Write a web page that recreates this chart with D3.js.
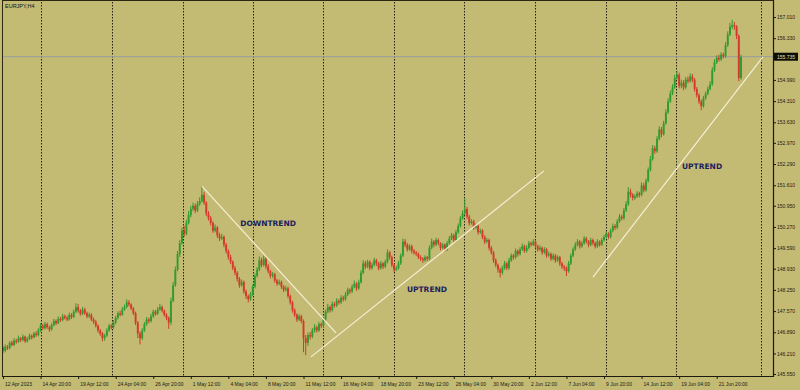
<!DOCTYPE html>
<html>
<head>
<meta charset="utf-8">
<script src="https://cdn.jsdelivr.net/npm/d3@7"></script>
<style>
  body { margin: 0; background: #c3ba74; }
  svg { display: block; }
  .tick text { font-family: "Liberation Sans", Arial, sans-serif; font-size: 5px; fill: #1a1a10; }
</style>
</head>
<body>
<div id="chart"></div>
<script>
// EURJPY H4 candles (prices)
var firstOpen = 146.38;

var closes = [
  146.30,146.42,146.38,146.55,146.48,146.62,146.58,146.70,146.64,146.75,146.60,146.68,146.78,146.72,146.85,146.80,146.95,
  147.10,147.02,147.15,147.05,146.98,147.12,147.25,147.18,147.32,147.28,147.40,147.35,147.30,147.45,147.38,147.55,147.70,
  147.58,147.48,147.62,147.50,147.40,147.45,147.30,147.22,147.10,146.95,146.85,146.70,146.78,146.95,147.10,147.05,147.20,
  147.35,147.50,147.45,147.62,147.70,147.85,147.78,147.65,147.50,147.20,146.85,146.70,146.95,147.15,147.30,147.25,147.40,
  147.55,147.48,147.62,147.70,147.58,147.45,147.35,147.20,147.90,148.40,148.90,149.40,149.75,150.15,150.05,150.40,150.65,
  150.85,150.95,150.80,151.00,151.10,151.30,151.05,150.70,150.55,150.40,150.15,150.25,150.00,149.90,149.95,149.70,149.50,
  149.30,149.15,148.95,148.80,148.60,148.40,148.50,148.20,148.05,147.95,148.10,148.35,148.70,148.90,149.20,149.05,149.25,
  149.00,148.85,148.70,148.75,148.55,148.45,148.50,148.35,148.25,148.30,148.05,147.85,147.60,147.45,147.30,147.40,147.25,
  146.70,146.55,146.80,146.75,146.95,147.05,146.95,147.15,147.10,147.30,147.55,147.70,147.60,147.80,147.75,147.90,147.85,
  148.00,147.95,148.10,148.25,148.20,148.35,148.45,148.30,148.50,148.80,149.10,149.00,149.15,148.95,149.05,149.20,149.10,
  148.95,149.10,149.00,149.15,149.45,149.30,149.05,148.90,148.95,149.10,149.35,149.80,149.70,149.55,149.65,149.50,149.45,
  149.40,149.30,149.25,149.20,149.30,149.25,149.60,149.80,149.70,149.85,149.75,149.60,149.70,149.55,149.75,149.90,150.00,
  149.85,150.10,150.30,150.55,150.70,150.85,150.60,150.40,150.45,150.25,150.30,150.10,150.15,149.95,149.80,149.85,149.60,
  149.45,149.20,149.05,148.90,148.80,148.95,149.10,148.95,149.20,149.35,149.30,149.50,149.40,149.55,149.65,149.50,149.60,
  149.75,149.70,149.80,149.65,149.55,149.60,149.45,149.55,149.35,149.40,149.25,149.35,149.20,149.30,149.10,149.00,148.95,
  148.85,149.10,149.35,149.55,149.70,149.80,149.65,149.75,149.90,149.80,149.70,149.85,149.75,149.65,149.80,149.70,149.85,
  149.95,150.05,149.95,150.15,150.30,150.25,150.45,150.60,150.55,150.80,151.00,151.40,151.30,151.20,151.25,151.35,151.30,
  151.60,151.45,151.75,152.10,152.45,152.80,152.70,153.10,153.40,153.25,153.60,153.95,154.30,154.55,154.75,155.05,155.15,
  154.80,154.90,154.75,155.00,154.95,155.10,155.00,154.70,154.50,154.30,154.15,154.40,154.55,154.70,154.85,155.30,155.55,
  155.70,155.65,155.80,155.75,156.10,156.45,156.70,156.75,156.70,156.40,155.05,155.73
];

var highs = [
  146.45,146.50,146.48,146.60,146.62,146.70,146.68,146.78,146.74,146.82,146.78,146.74,146.85,146.82,146.90,146.92,147.02,
  147.18,147.16,147.22,147.20,147.10,147.18,147.32,147.30,147.40,147.38,147.48,147.46,147.42,147.52,147.50,147.62,147.82,
  147.80,147.64,147.70,147.68,147.55,147.52,147.50,147.36,147.28,147.14,147.00,146.90,146.84,147.02,147.16,147.15,147.28,
  147.42,147.56,147.58,147.70,147.78,147.95,147.92,147.82,147.70,147.55,147.25,146.92,147.02,147.22,147.38,147.36,147.48,
  147.62,147.60,147.70,147.80,147.75,147.62,147.50,147.40,148.00,148.50,149.00,149.50,149.85,150.25,150.30,150.50,150.78,
  150.95,151.05,151.02,151.10,151.22,151.58,151.40,151.10,150.78,150.62,150.45,150.35,150.30,150.08,150.05,150.00,149.76,
  149.55,149.38,149.20,149.02,148.85,148.66,148.58,148.55,148.26,148.10,148.18,148.42,148.78,148.98,149.32,149.28,149.35,
  149.30,149.08,148.90,148.82,148.80,148.60,148.58,148.55,148.40,148.38,148.35,148.10,147.90,147.66,147.50,147.48,147.45,
  147.30,146.80,146.88,146.90,147.02,147.15,147.10,147.22,147.20,147.38,147.62,147.80,147.75,147.88,147.86,147.98,147.96,
  148.08,148.06,148.18,148.32,148.30,148.42,148.55,148.50,148.58,148.88,149.20,149.18,149.22,149.20,149.12,149.28,149.25,
  149.15,149.18,149.14,149.22,149.55,149.50,149.35,149.10,149.02,149.18,149.42,149.90,149.88,149.75,149.72,149.70,149.56,
  149.50,149.45,149.36,149.30,149.36,149.34,149.68,149.90,149.85,149.92,149.90,149.78,149.76,149.74,149.82,149.98,150.08,
  150.06,150.18,150.38,150.62,150.80,151.18,150.92,150.66,150.52,150.50,150.38,150.35,150.22,150.20,150.00,149.92,149.90,
  149.66,149.50,149.26,149.10,148.96,149.02,149.18,149.15,149.28,149.42,149.40,149.58,149.55,149.62,149.74,149.70,149.68,
  149.82,149.80,149.88,149.85,149.70,149.68,149.64,149.62,149.60,149.48,149.45,149.42,149.40,149.36,149.34,149.15,149.05,
  149.00,149.18,149.42,149.62,149.78,149.88,149.85,149.82,149.98,149.95,149.85,149.92,149.90,149.80,149.88,149.84,149.92,
  150.02,150.12,150.10,150.22,150.38,150.36,150.52,150.68,150.66,150.88,151.10,151.55,151.50,151.36,151.32,151.42,151.40,
  151.70,151.68,151.82,152.18,152.55,152.90,152.88,153.18,153.50,153.48,153.68,154.05,154.40,154.65,154.85,155.15,155.28,
  155.22,155.00,154.98,155.08,155.10,155.20,155.18,155.05,154.76,154.56,154.36,154.48,154.62,154.78,154.95,155.40,155.65,
  155.78,155.80,155.88,155.86,156.20,156.55,156.82,156.92,156.85,156.75,156.45,155.80
];

var lows = [
  146.22,146.25,146.32,146.34,146.44,146.45,146.52,146.55,146.58,146.60,146.55,146.56,146.64,146.66,146.70,146.74,146.76,
  146.90,146.96,146.98,147.00,146.90,146.94,147.08,147.12,147.15,147.22,147.24,147.30,147.24,147.26,147.32,147.34,147.50,
  147.52,147.42,147.44,147.45,147.34,147.35,147.25,147.16,147.04,146.88,146.78,146.60,146.62,146.74,146.90,146.98,147.00,
  147.15,147.30,147.40,147.42,147.58,147.66,147.72,147.60,147.44,147.12,146.70,146.50,146.64,146.90,147.10,147.18,147.20,
  147.35,147.42,147.44,147.58,147.52,147.40,147.28,147.00,147.12,147.85,148.35,148.85,149.30,149.70,149.95,150.00,150.35,
  150.58,150.78,150.72,150.75,150.95,151.05,150.98,150.62,150.48,150.32,150.08,150.10,149.92,149.82,149.85,149.62,149.42,
  149.22,149.08,148.88,148.72,148.52,148.32,148.35,148.12,147.96,147.85,147.90,148.05,148.30,148.65,148.85,148.98,149.00,
  148.92,148.78,148.62,148.64,148.48,148.38,148.40,148.28,148.18,148.20,147.98,147.78,147.52,147.38,147.22,147.25,147.18,
  146.25,146.15,146.45,146.65,146.70,146.88,146.88,146.90,147.02,147.05,147.25,147.50,147.52,147.55,147.68,147.70,147.78,
  147.80,147.88,147.90,148.05,148.12,148.15,148.30,148.22,148.25,148.45,148.75,148.92,148.95,148.88,148.90,149.00,149.02,
  148.88,148.90,148.92,148.95,149.10,149.22,148.98,148.82,148.85,148.90,149.05,149.30,149.62,149.48,149.50,149.42,149.38,
  149.34,149.24,149.18,149.12,149.15,149.18,149.20,149.55,149.62,149.65,149.68,149.52,149.55,149.48,149.50,149.70,149.85,
  149.78,149.80,150.05,150.25,150.50,150.65,150.52,150.32,150.35,150.18,150.20,150.02,150.05,149.88,149.72,149.75,149.52,
  149.38,149.12,148.98,148.80,148.65,148.74,148.90,148.88,148.90,149.15,149.22,149.25,149.32,149.35,149.50,149.44,149.45,
  149.55,149.64,149.66,149.58,149.48,149.50,149.38,149.40,149.28,149.30,149.18,149.20,149.12,149.15,149.02,148.92,148.86,
  148.70,148.80,149.05,149.30,149.50,149.65,149.58,149.60,149.70,149.74,149.62,149.65,149.68,149.58,149.60,149.64,149.66,
  149.80,149.90,149.88,149.90,150.10,150.18,150.20,150.40,150.48,150.50,150.75,150.95,151.22,151.12,151.14,151.20,151.22,
  151.25,151.38,151.40,151.70,152.05,152.40,152.62,152.65,153.05,153.15,153.20,153.55,153.90,154.25,154.50,154.70,155.00,
  154.72,154.72,154.66,154.70,154.88,154.90,154.92,154.62,154.42,154.22,154.02,154.10,154.35,154.50,154.65,154.80,155.25,
  155.50,155.58,155.60,155.68,155.70,156.05,156.40,156.62,156.60,156.30,154.95,155.00
];

// axis labels
var priceTicks = [157.010,156.330,154.990,154.310,153.630,152.970,152.290,151.610,150.950,150.270,
                  149.590,148.930,148.250,147.570,146.890,146.210,145.550];
var lastPrice = 155.735;

var dateLabels = ["12 Apr 2023","14 Apr 20:00","19 Apr 12:00","24 Apr 04:00","26 Apr 20:00",
                  "1 May 12:00","4 May 04:00","8 May 20:00","11 May 12:00","16 May 04:00",
                  "18 May 20:00","23 May 12:00","26 May 04:00","30 May 20:00","2 Jun 12:00",
                  "7 Jun 04:00","9 Jun 20:00","14 Jun 12:00","19 Jun 04:00","21 Jun 20:00"];
var dateBars = [0,17,34,51,68,85,102,119,136,153,170,187,204,221,238,255,272,289,306,323];

// period separators (bar index)
var gridBars = [17.4,49.3,81.4,113.1,144.8,177,208.6,240.8,272.9,304.6,343];

// drawn trend lines: [bar, price] -> [bar, price]
var trendLines = [
  [[90, 151.58], [150.7, 146.87]],
  [[139.4, 146.10], [244.8, 152.07]],
  [[267, 148.66], [343.9, 155.73]]
];
var trendNames = ["DOWNTREND", "UPTREND", "UPTREND"];
var trendLabelAt = [[107.4, 150.30], [182.8, 148.18], [307.3, 152.13]];

var width = 800, height = 390;
var plotLeft = 2, plotRight = 773, plotTop = 2, plotBottom = 376;

var svg = d3.select("#chart").append("svg")
  .attr("width", width)
  .attr("height", height);

svg.append("rect").attr("width", width).attr("height", height).attr("fill", "#c3ba74");

var x = d3.scaleLinear().domain([0, 334]).range([3, 741]);
var y = d3.scaleLinear().domain([145.55, 157.01]).range([374, 17]);

// dotted vertical separators
svg.append("g").selectAll("line").data(gridBars).enter().append("line")
  .attr("x1", function(d) { return Math.round(x(d)) + 0.5; })
  .attr("x2", function(d) { return Math.round(x(d)) + 0.5; })
  .attr("y1", plotTop)
  .attr("y2", plotBottom)
  .attr("stroke", "#24220f")
  .attr("stroke-width", 1)
  .attr("stroke-dasharray", "1.5,1.5");

// last price line
svg.append("line")
  .attr("x1", plotLeft).attr("x2", plotRight)
  .attr("y1", y(lastPrice)).attr("y2", y(lastPrice))
  .attr("stroke", "#969ca0").attr("stroke-width", 1);

// candles
var candles = closes.map(function(c, i) {
  var o = i === 0 ? firstOpen : closes[i - 1];
  return {i: i, o: o, c: c, h: Math.max(highs[i], o, c), l: Math.min(lows[i], o, c)};
});

function candleColor(d) { return d.c >= d.o ? "#2f9c30" : "#d4392b"; }

var g = svg.append("g");
g.selectAll("line.wick").data(candles).enter().append("line")
  .attr("class", "wick")
  .attr("x1", function(d) { return x(d.i); })
  .attr("x2", function(d) { return x(d.i); })
  .attr("y1", function(d) { return y(d.h); })
  .attr("y2", function(d) { return y(d.l); })
  .attr("stroke", candleColor)
  .attr("stroke-width", 1);

g.selectAll("rect.body").data(candles).enter().append("rect")
  .attr("class", "body")
  .attr("x", function(d) { return x(d.i) - 0.95; })
  .attr("width", 1.9)
  .attr("y", function(d) { return y(Math.max(d.o, d.c)); })
  .attr("height", function(d) { return Math.max(1, Math.abs(y(d.o) - y(d.c))); })
  .attr("fill", candleColor);

// trend lines
svg.append("g").selectAll("line").data(trendLines).enter().append("line")
  .attr("x1", function(d) { return x(d[0][0]); })
  .attr("y1", function(d) { return y(d[0][1]); })
  .attr("x2", function(d) { return x(d[1][0]); })
  .attr("y2", function(d) { return y(d[1][1]); })
  .attr("stroke", "#f4f0d6")
  .attr("stroke-width", 1.2);

svg.append("g").selectAll("text").data(trendNames).enter().append("text")
  .attr("x", function(d, i) { return x(trendLabelAt[i][0]); })
  .attr("y", function(d, i) { return y(trendLabelAt[i][1]); })
  .attr("font-family", "DejaVu Sans, sans-serif")
  .attr("font-weight", "bold")
  .attr("font-size", 7.5)
  .attr("fill", "#1c1e5e")
  .text(function(d) { return d; });

// frame
svg.append("line").attr("x1", plotLeft + 0.5).attr("x2", plotLeft + 0.5)
  .attr("y1", 0).attr("y2", plotBottom).attr("stroke", "#2a2812");
svg.append("line").attr("x1", plotLeft).attr("x2", plotRight)
  .attr("y1", 0.5).attr("y2", 0.5).attr("stroke", "#2a2812");

// right price axis
var yAxis = d3.axisRight(y).tickValues(priceTicks).tickFormat(d3.format(".3f")).tickSize(3).tickPadding(1);
svg.append("g")
  .attr("transform", "translate(" + plotRight + ",0)")
  .call(yAxis)
  .call(function(s) { s.select(".domain").remove(); })
  .call(function(s) { s.selectAll("line").attr("stroke", "#1a1a10"); });
svg.append("line").attr("x1", plotRight + 0.5).attr("x2", plotRight + 0.5)
  .attr("y1", 0).attr("y2", plotBottom + 1).attr("stroke", "#1a1a10").attr("stroke-width", 1.2);

// current price box
svg.append("rect").attr("x", plotRight + 1).attr("y", y(lastPrice) - 4)
  .attr("width", 24).attr("height", 8).attr("fill", "#0c0c08");
svg.append("text").attr("x", plotRight + 4).attr("y", y(lastPrice) + 1.8)
  .attr("font-family", "Liberation Sans, Arial, sans-serif").attr("font-size", 5)
  .attr("fill", "#e6e0b0").text(d3.format(".3f")(lastPrice));

// bottom time axis
var xAxis = d3.axisBottom(x).tickValues(dateBars)
  .tickFormat(function(d, i) { return dateLabels[i]; }).tickSize(3).tickPadding(2);
var xg = svg.append("g")
  .attr("transform", "translate(0," + plotBottom + ")")
  .call(xAxis)
  .call(function(s) { s.select(".domain").remove(); })
  .call(function(s) { s.selectAll("line").attr("stroke", "#1a1a10"); });
xg.selectAll("text").attr("text-anchor", "start").attr("x", 1.5).attr("dy", "0.9em");
svg.append("line").attr("x1", plotLeft).attr("x2", plotRight + 1)
  .attr("y1", plotBottom + 0.5).attr("y2", plotBottom + 0.5)
  .attr("stroke", "#1a1a10").attr("stroke-width", 1.2);

// symbol caption
svg.append("text").attr("x", 5).attr("y", 8)
  .attr("font-family", "Liberation Sans, Arial, sans-serif").attr("font-size", 5.5)
  .attr("fill", "#111").text("EURJPY,H4");
</script>
</body>
</html>
